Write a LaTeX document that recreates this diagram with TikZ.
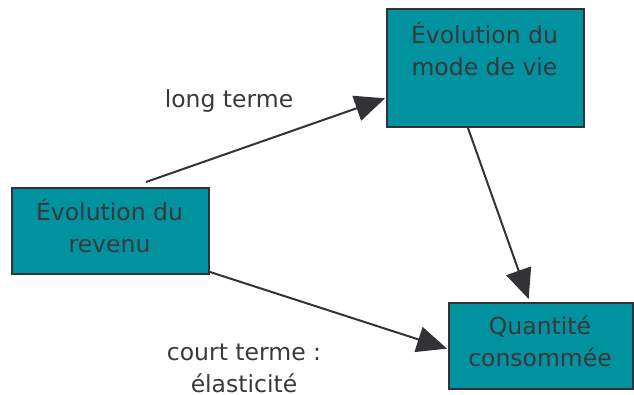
\documentclass[tikz,border=0pt]{standalone}
\usepackage{fontspec}
\setmainfont{DejaVu Sans}
\usetikzlibrary{arrows.meta}
\definecolor{teal1}{RGB}{0,146,158}
\definecolor{edge}{RGB}{51,51,55}
\definecolor{ink}{RGB}{58,56,60}
\tikzset{
  box/.style={draw=edge, line width=2pt, fill=teal1, anchor=north west, inner sep=0pt},
  txt/.style={text=ink, font=\fontsize{23.5}{32}\selectfont, align=center, inner sep=0pt},
  conn/.style={draw=edge, line width=2pt, -{Triangle[length=30pt,width=26pt]}, shorten >=1pt}
}
\begin{document}
\begin{tikzpicture}[x=1pt,y=-1pt]
\useasboundingbox (0,0) rectangle (634,394);
\node[box, minimum width=197pt, minimum height=118pt] (vie) at (386,8) {};
\node[box, minimum width=197pt, minimum height=86pt] (rev) at (11,187) {};
\node[box, minimum width=184pt, minimum height=86pt] (qc) at (448,302) {};
\node[txt, anchor=base] (tvie) at (484.5,75) {Évolution du\\mode de vie};
\node[txt, anchor=base] (trev) at (109.5,252) {Évolution du\\revenu};
\node[txt, anchor=base] (tqc) at (540,366) {Quantité\\consommée};
\node[txt, anchor=base] (lt) at (229,107) {long terme};
\node[txt, anchor=base] (ct) at (244,392) {court terme :\\élasticité};
\draw[conn] ([xshift=35.5pt,yshift=5pt]rev.north) -- ([yshift=-30pt]vie.west);
\draw[conn] ([xshift=-17.5pt]vie.south) -- ([xshift=-12pt,yshift=2pt]qc.north);
\draw[conn] ([yshift=3pt]rev.south east) -- ([yshift=-3pt]qc.west);
\end{tikzpicture}
\end{document}
